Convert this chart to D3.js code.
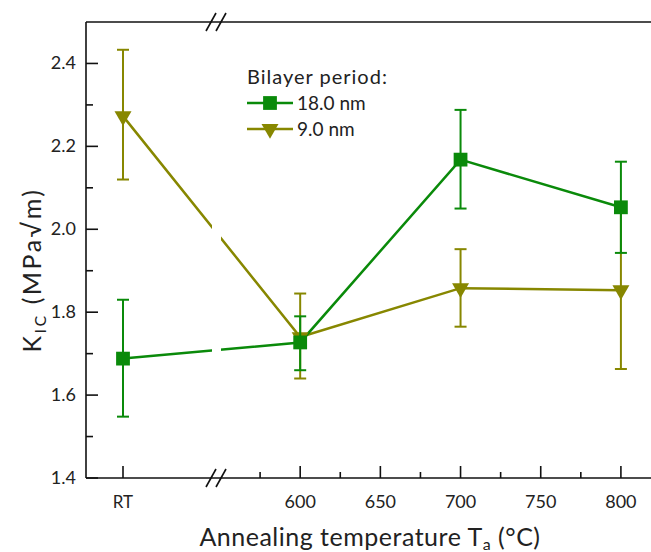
<!DOCTYPE html>
<html>
<head>
<meta charset="utf-8">
<script src="https://cdn.jsdelivr.net/npm/d3@7"></script>
<style>
  body { margin: 0; background: #fff; }
  text { font-family: Lato, "Open Sans", sans-serif; fill: #222; }
</style>
</head>
<body>
<svg id="main"></svg>
<script>
var w = 651;
var h = 552;

// data
var temps = ["RT", 600, 700, 800];
var k18 = [1.688, 1.727, 2.168, 2.053];
var k18lo = [1.548, 1.660, 2.050, 1.943];
var k18hi = [1.830, 1.790, 2.288, 2.163];
var k9 = [2.273, 1.740, 1.858, 1.853];
var k9lo = [2.120, 1.640, 1.765, 1.663];
var k9hi = [2.433, 1.845, 1.952, 2.043];
var yTicks = [1.4, 1.6, 1.8, 2.0, 2.2, 2.4];
var yMinor = [1.5, 1.7, 1.9, 2.1, 2.3];
var xTicks = [600, 650, 700, 750, 800];
var xMinor = [575, 625, 675, 725, 775];

var padLeft = 86, padTop = 22, padBottom = 478, breakX = 216;
var green = "#0a8a0a", olive = "#878700";

var svg = d3.select("#main").attr("width", w).attr("height", h);

var xLeft = d3.scalePoint().domain(["RT"]).range([padLeft + 1, 159]);
var xRight = d3.scaleLinear().domain([550, 825]).range([220, 661]);
var x = function(t) { return t === "RT" ? xLeft(t) : xRight(t); };
var y = d3.scaleLinear().domain([1.4, 2.5]).range([padBottom, padTop]);

var series = [
  { name: "9.0 nm", color: olive, vals: k9, lo: k9lo, hi: k9hi, sym: "tri" },
  { name: "18.0 nm", color: green, vals: k18, lo: k18lo, hi: k18hi, sym: "sq" }
];

var line = d3.line()
  .x(function(d) { return x(d[0]); })
  .y(function(d) { return y(d[1]); });

var markerPath = function(sym) {
  if (sym === "sq") return d3.symbol().type(d3.symbolSquare).size(190)();
  return d3.symbol().type(d3.symbolTriangle).size(125)();
};

// connecting lines
series.forEach(function(s) {
  svg.append("path")
    .datum(temps.map(function(t, i) { return [t, s.vals[i]]; }))
    .attr("d", line)
    .attr("fill", "none")
    .attr("stroke", s.color)
    .attr("stroke-width", 2.5);
});

// gap at the axis break
svg.append("rect")
  .attr("x", breakX - 4).attr("y", padTop + 2)
  .attr("width", 9).attr("height", padBottom - padTop - 4)
  .attr("fill", "#fff");

// error bars + markers
series.forEach(function(s) {
  var g = svg.append("g");
  temps.forEach(function(t, i) {
    var cx = x(t);
    g.append("line")
      .attr("x1", cx).attr("x2", cx)
      .attr("y1", y(s.lo[i])).attr("y2", y(s.hi[i]))
      .attr("stroke", s.color).attr("stroke-width", 2);
    [s.lo[i], s.hi[i]].forEach(function(v) {
      g.append("line")
        .attr("x1", cx - 6).attr("x2", cx + 6)
        .attr("y1", y(v)).attr("y2", y(v))
        .attr("stroke", s.color).attr("stroke-width", 2);
    });
    g.append("path")
      .attr("d", markerPath(s.sym))
      .attr("transform", "translate(" + cx + "," + y(s.vals[i]) + ")" + (s.sym === "tri" ? " rotate(180)" : ""))
      .attr("fill", s.color);
  });
});

// frame
var frame = svg.append("g").attr("stroke", "#111").attr("stroke-width", 1.6).attr("fill", "none");
frame.append("line").attr("x1", padLeft).attr("x2", w).attr("y1", padTop).attr("y2", padTop);
frame.append("line").attr("x1", padLeft).attr("x2", w).attr("y1", padBottom).attr("y2", padBottom);
frame.append("line").attr("x1", padLeft).attr("x2", padLeft).attr("y1", padTop).attr("y2", padBottom);

// break marks
[padTop, padBottom].forEach(function(yy) {
  [-5, 5].forEach(function(dx) {
    frame.append("line")
      .attr("x1", breakX + dx - 5).attr("y1", yy + 9)
      .attr("x2", breakX + dx + 5).attr("y2", yy - 9)
      .attr("stroke-width", 1.6);
  });
});

// y ticks
yTicks.forEach(function(v) {
  frame.append("line").attr("x1", padLeft).attr("x2", padLeft + 12).attr("y1", y(v)).attr("y2", y(v));
  svg.append("text").attr("x", padLeft - 10).attr("y", y(v) + 6)
    .attr("text-anchor", "end").attr("font-size", 18).text(v.toFixed(1));
});
yMinor.forEach(function(v) {
  frame.append("line").attr("x1", padLeft).attr("x2", padLeft + 7).attr("y1", y(v)).attr("y2", y(v));
});

// x ticks
["RT"].concat(xTicks).forEach(function(t) {
  frame.append("line").attr("x1", x(t)).attr("x2", x(t)).attr("y1", padBottom).attr("y2", padBottom - 12);
  svg.append("text").attr("x", x(t)).attr("y", padBottom + 30)
    .attr("text-anchor", "middle").attr("font-size", t === "RT" ? 17 : 18).text(t);
});
xMinor.forEach(function(t) {
  frame.append("line").attr("x1", x(t)).attr("x2", x(t)).attr("y1", padBottom).attr("y2", padBottom - 6);
});

// axis titles
var xt = svg.append("text").attr("x", 370).attr("y", 546)
  .attr("text-anchor", "middle").attr("font-size", 25).attr("letter-spacing", 0.5);
xt.append("tspan").text("Annealing temperature T");
xt.append("tspan").attr("font-size", 16).attr("dy", 4).text("a");
xt.append("tspan").attr("dy", -4).text(" (°C)");

var yt = svg.append("text").attr("transform", "translate(41,270) rotate(-90)")
  .attr("text-anchor", "middle").attr("font-size", 25).attr("letter-spacing", 2.5);
yt.append("tspan").text("K");
yt.append("tspan").attr("font-size", 16).attr("dy", 5).text("IC");
yt.append("tspan").attr("dy", -5).text(" (MPa√m)");

// legend
svg.append("text").attr("x", 247).attr("y", 84).attr("font-size", 20).attr("letter-spacing", 1).text("Bilayer period:");
[series[1], series[0]].forEach(function(s, i) {
  var ly = 103 + i * 26;
  svg.append("line").attr("x1", 247).attr("x2", 293).attr("y1", ly).attr("y2", ly)
    .attr("stroke", s.color).attr("stroke-width", 2.5);
  svg.append("path").attr("d", markerPath(s.sym))
    .attr("transform", "translate(270," + ly + ")" + (s.sym === "tri" ? " rotate(180)" : ""))
    .attr("fill", s.color);
  svg.append("text").attr("x", 297).attr("y", ly + 7).attr("font-size", 19).text(s.name);
});
</script>
</body>
</html>
